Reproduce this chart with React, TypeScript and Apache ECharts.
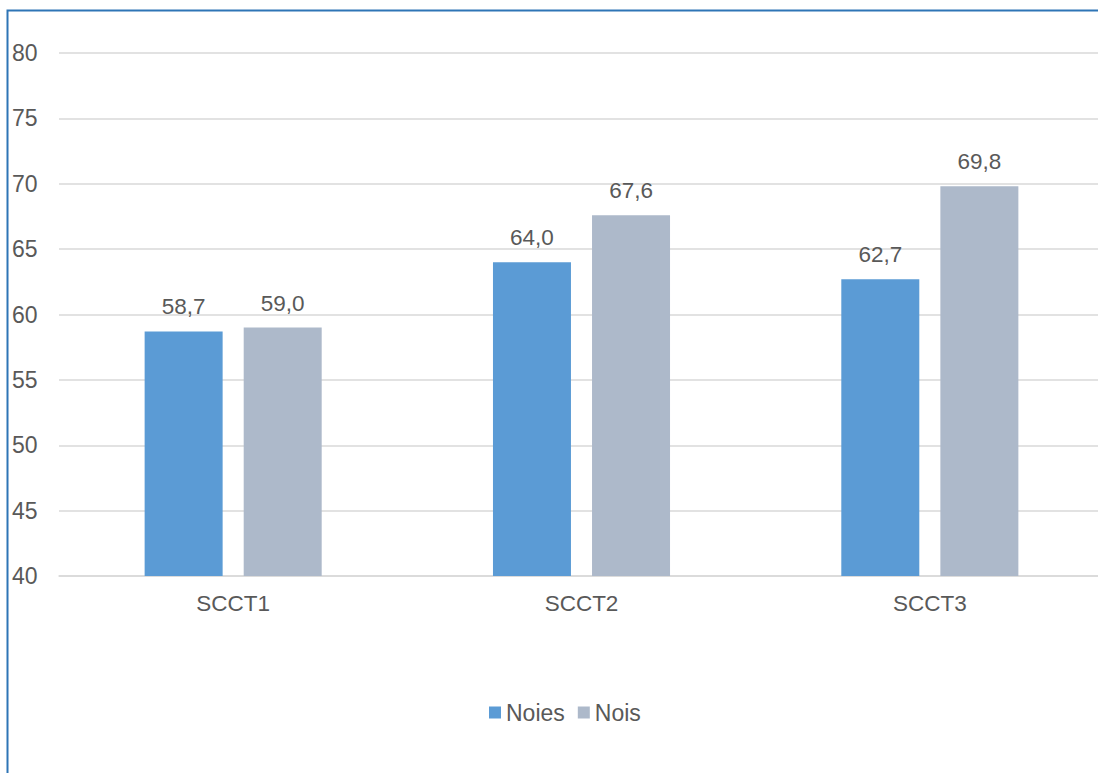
import React, { useEffect, useRef } from "react";
import * as echarts from "echarts";

const categories = ["SCCT1", "SCCT2", "SCCT3"];
const seriesNames = ["Noies", "Nois"];
const noiesValues = [58.7, 64.0, 62.7];
const noisValues = [59.0, 67.6, 69.8];
const yMin = 40;
const yMax = 80;
const yInterval = 5;

const FONT = "'Liberation Sans', Arial, sans-serif";
const TEXT = "#595959";

export default function App() {
  const ref = useRef<HTMLDivElement>(null);

  useEffect(() => {
    if (!ref.current) return;
    const chart = echarts.init(ref.current, undefined, { renderer: "svg" });
    const fmt = (p: any) => Number(p.value).toFixed(1).replace(".", ",");
    chart.setOption({
      animation: false,
      backgroundColor: "#ffffff",
      textStyle: { fontFamily: FONT },
      grid: { left: 59, right: 0, top: 53, bottom: 197, containLabel: false },
      legend: {
        data: seriesNames,
        left: 484,
        top: 696,
        itemWidth: 12,
        itemHeight: 12,
        itemGap: 13,
        icon: "rect",
        textStyle: { fontSize: 23, color: TEXT, fontFamily: FONT },
      },
      xAxis: {
        type: "category",
        data: categories,
        axisLine: { show: true, lineStyle: { color: "#D9D9D9", width: 1.5 } },
        axisTick: { show: false },
        axisLabel: { fontSize: 22.5, color: TEXT, margin: 16, fontFamily: FONT },
      },
      yAxis: {
        type: "value",
        min: yMin,
        max: yMax,
        interval: yInterval,
        axisLine: { show: false },
        axisTick: { show: false },
        axisLabel: { fontSize: 23, color: TEXT, align: "left", margin: 47, fontFamily: FONT },
        splitLine: { show: true, lineStyle: { color: "#D9D9D9", width: 1.5 } },
      },
      series: [
        {
          name: seriesNames[0],
          type: "bar",
          data: noiesValues,
          barWidth: 78,
          barGap: "27%",
          itemStyle: { color: "#5B9BD5" },
          label: {
            show: true,
            position: "top",
            distance: 13,
            fontSize: 22.5,
            color: TEXT,
            fontFamily: FONT,
            formatter: fmt,
          },
        },
        {
          name: seriesNames[1],
          type: "bar",
          data: noisValues,
          barWidth: 78,
          barGap: "27%",
          itemStyle: { color: "#ADB9CA" },
          label: {
            show: true,
            position: "top",
            distance: 13,
            fontSize: 22.5,
            color: TEXT,
            fontFamily: FONT,
            formatter: fmt,
          },
        },
      ],
      graphic: [
        {
          type: "polyline",
          shape: { points: [[7.5, 800], [7.5, 10.5], [1200, 10.5]] },
          style: { stroke: "#2E75B6", lineWidth: 2, fill: "none" },
          silent: true,
          z: 100,
        },
      ],
    });
    return () => chart.dispose();
  }, []);

  return (
    <div
      style={{
        position: "absolute",
        left: 0,
        top: 0,
        width: 1098,
        height: 773,
        overflow: "hidden",
      }}
    >
      <div ref={ref} style={{ position: "absolute", left: 0, top: 0, width: 1104, height: 773 }} />
    </div>
  );
}
